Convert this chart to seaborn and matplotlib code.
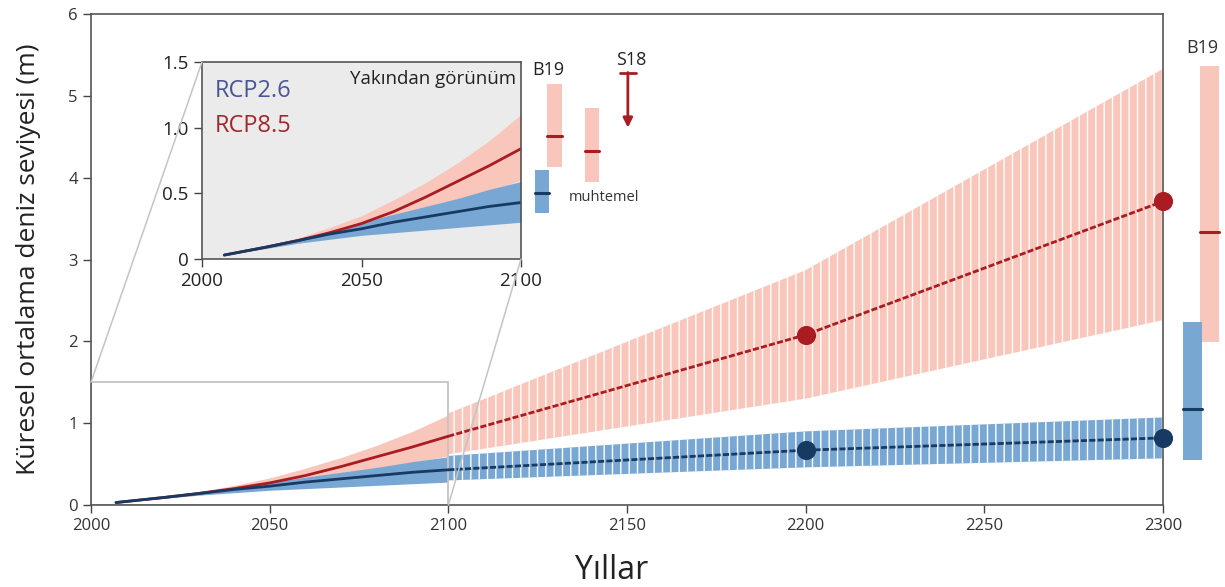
import numpy as np
import pandas as pd
import seaborn as sns
import matplotlib.pyplot as plt
from matplotlib.patches import Rectangle, ConnectionPatch

# yakın dönem (2007-2100) projeksiyonlar
years = [2007, 2020, 2030, 2040, 2050, 2060, 2070, 2080, 2090, 2100]
rcp85_med = [0.03, 0.09, 0.14, 0.20, 0.27, 0.36, 0.47, 0.59, 0.71, 0.84]
rcp85_low = [0.03, 0.08, 0.12, 0.17, 0.22, 0.29, 0.36, 0.44, 0.52, 0.60]
rcp85_high = [0.03, 0.10, 0.16, 0.24, 0.33, 0.45, 0.58, 0.73, 0.90, 1.10]
rcp26_med = [0.03, 0.09, 0.14, 0.19, 0.23, 0.28, 0.32, 0.36, 0.40, 0.43]
rcp26_low = [0.03, 0.08, 0.12, 0.15, 0.18, 0.20, 0.22, 0.24, 0.26, 0.28]
rcp26_high = [0.03, 0.10, 0.15, 0.21, 0.28, 0.34, 0.40, 0.46, 0.53, 0.59]

# uzun dönem (2100-2300)
years_long = [2100, 2200, 2300]
rcp85_long_med = [0.84, 2.08, 3.71]
rcp85_long_low = [0.62, 1.30, 2.26]
rcp85_long_high = [1.12, 2.87, 5.33]
rcp26_long_med = [0.43, 0.67, 0.82]
rcp26_long_low = [0.30, 0.46, 0.57]
rcp26_long_high = [0.60, 0.90, 1.07]
marker_years = [2200, 2300]

# B19 uzman değerlendirmesi (2300)
b19_main_x = [2308.2, 2313.0]
b19_main_low = [0.55, 1.99]
b19_main_high = [2.24, 5.37]
b19_main_med = [1.17, 3.33]

# yakından görünüm: B19 ve diğer tahminler (2100)
b19_in_x = [2106.5, 2110.5, 2122.2]
b19_in_low = [0.35, 0.70, 0.59]
b19_in_high = [0.68, 1.33, 1.15]
b19_in_med = [0.50, 0.94, 0.82]
s18_x = 2133.5
s18_top, s18_bottom = 1.42, 1.00

red = "#a81c22"
navy = "#173a63"
pink = "#f8c6ba"
blue = "#79a7d3"

sns.set_theme(style="ticks")
plt.rcParams["font.family"] = ["Open Sans", "DejaVu Sans"]
plt.rcParams["hatch.linewidth"] = 1.0
plt.rcParams["hatch.color"] = "white"

fig = plt.figure(figsize=(12.25, 5.87), dpi=100)
ax = fig.add_axes([91 / 1225, 1 - 505 / 587, 1072 / 1225, 491 / 587])

near = pd.DataFrame({"yil": years, "r85": rcp85_med, "r26": rcp26_med})
far = pd.DataFrame({"yil": years_long, "r85": rcp85_long_med, "r26": rcp26_long_med})

# ana grafik
ax.fill_between(years, rcp85_low, rcp85_high, color=pink, lw=0)
ax.fill_between(years, rcp26_low, rcp26_high, color=blue, lw=0)
ax.fill_between(years_long, rcp85_long_low, rcp85_long_high, facecolor=pink,
                edgecolor="white", hatch="||", lw=0)
ax.fill_between(years_long, rcp26_long_low, rcp26_long_high, facecolor=blue,
                edgecolor="white", hatch="||", lw=0)
sns.lineplot(data=near, x="yil", y="r85", color=red, lw=2, ax=ax)
sns.lineplot(data=near, x="yil", y="r26", color=navy, lw=2, ax=ax)
sns.lineplot(data=far, x="yil", y="r85", color=red, lw=2, ax=ax, dashes=False)
sns.lineplot(data=far, x="yil", y="r26", color=navy, lw=2, ax=ax, dashes=False)
for ln in ax.lines[2:]:
    ln.set_linestyle((0, (2.2, 0.8)))
pts = far[far["yil"].isin(marker_years)]
sns.scatterplot(x=pts["yil"], y=pts["r85"], color=red, s=190, ax=ax, zorder=5,
                linewidth=0, clip_on=False)
sns.scatterplot(x=pts["yil"], y=pts["r26"], color=navy, s=190, ax=ax, zorder=5,
                linewidth=0, clip_on=False)

# sağdaki B19 çubukları
cols = [blue, pink]
meds = [navy, red]
for i in [1, 0]:
    ax.bar(b19_main_x[i], b19_main_high[i] - b19_main_low[i], bottom=b19_main_low[i],
           width=5.3, color=cols[i], clip_on=False, lw=0)
    ax.plot([b19_main_x[i] - 2.65, b19_main_x[i] + 2.65], [b19_main_med[i]] * 2,
            color=meds[i], lw=2.2, clip_on=False)
ax.text(2311, 5.47, "B19", ha="center", va="bottom", fontsize=13, color="#333333")

ax.set_xlim(2000, 2300)
ax.set_ylim(0, 6)
ax.set_xticks(range(2000, 2301, 50))
ax.set_yticks(range(0, 7))
ax.tick_params(labelsize=12, length=6, width=1, color="#444444", labelcolor="#333333")
for sp in ax.spines.values():
    sp.set_color("#555555")
    sp.set_linewidth(1.2)
ax.set_xlabel("Yıllar", fontsize=23, color="#222222")
ax.set_ylabel("Küresel ortalama deniz seviyesi (m)", fontsize=19, color="#222222")
ax.xaxis.set_label_coords(0.486, -0.1)
ax.yaxis.set_label_coords(-0.047, 0.5)

# yakından görünüm kutusu
ax.add_patch(Rectangle((2000, 0), 100, 1.5, fill=False, edgecolor="#c4c4c4", lw=1.3, zorder=1))

axin = fig.add_axes([202 / 1225, 1 - 259 / 587, 319 / 1225, 197 / 587])
axin.set_facecolor("#ebebeb")
axin.fill_between(years, rcp85_low, rcp85_high, color=pink, lw=0)
axin.fill_between(years, rcp26_low, rcp26_high, color=blue, lw=0)
sns.lineplot(data=near, x="yil", y="r85", color=red, lw=2, ax=axin)
sns.lineplot(data=near, x="yil", y="r26", color=navy, lw=2, ax=axin)
axin.set_xlim(2000, 2100)
axin.set_ylim(0, 1.5)
axin.set_xticks([2000, 2050, 2100])
axin.set_yticks([0, 0.5, 1.0, 1.5])
axin.set_yticklabels(["0", "0.5", "1.0", "1.5"])
axin.set_xlabel("")
axin.set_ylabel("")
axin.tick_params(labelsize=13.5, length=6, width=1, color="#444444", labelcolor="#222222")
for sp in axin.spines.values():
    sp.set_color("#555555")
    sp.set_linewidth(1.2)
axin.text(2004, 1.28, "RCP2.6", color="#4b5596", fontsize=17, va="center")
axin.text(2004, 1.01, "RCP8.5", color="#9e2a2b", fontsize=17, va="center")
axin.text(2098.5, 1.37, "Yakından görünüm", ha="right", va="center", fontsize=13.5,
          color="#222222")

# sağdaki 2100 tahminleri
inc = [blue, pink, pink]
inm = [navy, red, red]
for i in range(3):
    axin.bar(b19_in_x[i], b19_in_high[i] - b19_in_low[i], bottom=b19_in_low[i],
             width=4.4, color=inc[i], clip_on=False, lw=0)
    axin.plot([b19_in_x[i] - 2.2, b19_in_x[i] + 2.2], [b19_in_med[i]] * 2,
              color=inm[i], lw=2.2, clip_on=False)
axin.text(2108.5, 1.37, "B19", ha="center", va="bottom", fontsize=13, color="#222222")
axin.text(2115, 0.47, "muhtemel", ha="left", va="center", fontsize=10.5, color="#333333")
axin.text(s18_x + 1, s18_top + 0.03, "S18", ha="center", va="bottom", fontsize=13,
          color="#222222")
axin.plot([s18_x - 2.5, s18_x + 2.5], [s18_top, s18_top], color=red, lw=2, clip_on=False)
axin.annotate("", xy=(s18_x, s18_bottom), xytext=(s18_x, s18_top), annotation_clip=False,
              arrowprops=dict(arrowstyle="-|>", color=red, lw=2, mutation_scale=14,
                              shrinkA=0, shrinkB=0))

# bağlantı çizgileri
for p in [(2000, 1.5), (2100, 0)]:
    con = ConnectionPatch(xyA=p, coordsA=ax.transData, xyB=p, coordsB=axin.transData,
                          color="#c4c4c4", lw=1.1)
    fig.add_artist(con)

fig.savefig("out.png", dpi=100)
